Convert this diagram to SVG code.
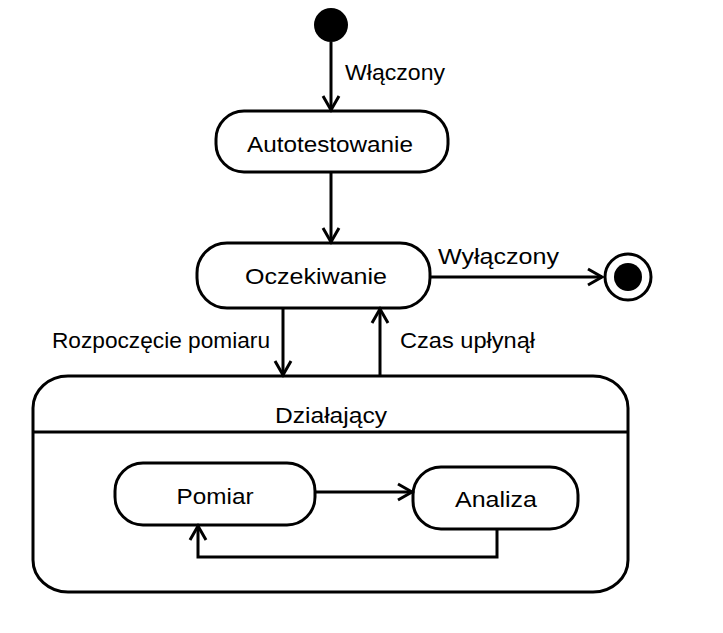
<svg xmlns="http://www.w3.org/2000/svg" width="723" height="633" viewBox="0 0 723 633">
<defs>
<style>
.node{fill:#fff;stroke:#000;stroke-width:3}
.edge{fill:none;stroke:#000;stroke-width:3}
text{font-family:"Liberation Sans",Arial,sans-serif;font-size:22px;fill:#000}
.c{text-anchor:middle}
</style>
<marker id="arr" markerUnits="userSpaceOnUse" markerWidth="20" markerHeight="20" viewBox="-16 -10 20 20" refX="0" refY="0" orient="auto">
<path d="M-14,-8 L0,0 L-14,8" fill="none" stroke="#000" stroke-width="3"/>
</marker>
</defs>
<rect width="723" height="633" fill="#fff"/>
<g id="initial"><circle cx="331" cy="25" r="17" fill="#000"/></g>
<g id="autotestowanie">
<rect class="node" x="216" y="111" width="232" height="61" rx="28" ry="28"/>
<text class="c" x="330" y="152" textLength="166" lengthAdjust="spacingAndGlyphs">Autotestowanie</text>
</g>
<g id="oczekiwanie">
<rect class="node" x="197" y="243" width="233" height="65" rx="30" ry="30"/>
<text class="c" x="316" y="284" textLength="142" lengthAdjust="spacingAndGlyphs">Oczekiwanie</text>
</g>
<g id="final">
<circle cx="628" cy="277" r="23" fill="#fff" stroke="#000" stroke-width="3"/>
<circle cx="628" cy="277" r="14" fill="#000"/>
</g>
<g id="dzialajacy">
<rect class="node" x="33" y="376" width="595" height="216" rx="35" ry="32"/>
<line class="edge" x1="33" y1="432" x2="628" y2="432"/>
<text class="c" x="331" y="423" textLength="112" lengthAdjust="spacingAndGlyphs">Działający</text>
</g>
<g id="pomiar">
<rect class="node" x="115" y="463" width="200" height="62" rx="28" ry="28"/>
<text class="c" x="215" y="504" textLength="77" lengthAdjust="spacingAndGlyphs">Pomiar</text>
</g>
<g id="analiza">
<rect class="node" x="413" y="467" width="165" height="62" rx="28" ry="28"/>
<text class="c" x="496" y="507" textLength="82" lengthAdjust="spacingAndGlyphs">Analiza</text>
</g>
<g id="connectors">
<line class="edge" x1="331" y1="42" x2="331" y2="110" marker-end="url(#arr)"/>
<line class="edge" x1="331" y1="173" x2="331" y2="242" marker-end="url(#arr)"/>
<line class="edge" x1="430" y1="277" x2="602" y2="277" marker-end="url(#arr)"/>
<line class="edge" x1="283" y1="309" x2="283" y2="375" marker-end="url(#arr)"/>
<line class="edge" x1="380" y1="375" x2="380" y2="309" marker-end="url(#arr)"/>
<line class="edge" x1="316" y1="492" x2="412" y2="492" marker-end="url(#arr)"/>
<polyline class="edge" points="497,530 497,557 198,557 198,526" marker-end="url(#arr)"/>
<text x="345" y="80" textLength="100" lengthAdjust="spacingAndGlyphs">Włączony</text>
<text x="438" y="264" textLength="121" lengthAdjust="spacingAndGlyphs">Wyłączony</text>
<text x="52" y="348" textLength="218" lengthAdjust="spacingAndGlyphs">Rozpoczęcie pomiaru</text>
<text x="400" y="348" textLength="135" lengthAdjust="spacingAndGlyphs">Czas upłynął</text>
</g>
</svg>
